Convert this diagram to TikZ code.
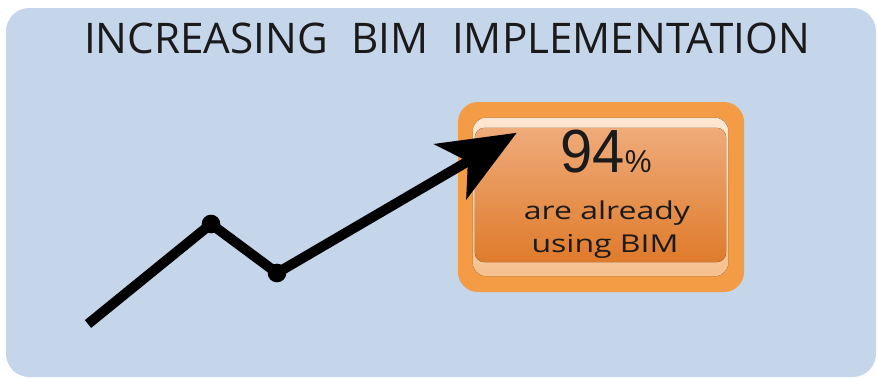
\documentclass[tikz,border=0pt]{standalone}
\usepackage{fontspec}
\setmainfont{Open Sans}
\newfontfamily\numfont[FakeStretch=0.95]{Liberation Sans}
\newfontfamily\titlefont{Open Sans}
\newfontfamily\labelfont[FakeStretch=1.3]{Open Sans}
\usepackage{tikz}
\usetikzlibrary{positioning, calc, arrows.meta}
\definecolor{panelblue}{HTML}{C5D5EA}
\definecolor{boxorange}{HTML}{F39C45}
\definecolor{boxcream}{HTML}{FCE7D2}
\definecolor{boxpeach}{HTML}{F6C08E}
\definecolor{boxtop}{HTML}{EFAB7A}
\definecolor{boxmid}{HTML}{D6691D}
\definecolor{boxbottom}{HTML}{DF7B2B}
\definecolor{inktext}{HTML}{1A1A1A}

\begin{document}
\begin{tikzpicture}[x=0.3mm, y=-0.3mm,
    point/.style={circle,
      fill=black,
      inner sep=0pt,
      minimum size=5.6mm},
    trend/.style={line width=3mm,
      line join=round},
    statline/.style={font=\labelfont\fontsize{21}{21}\selectfont,
      text=inktext,
      anchor=base}]
  \useasboundingbox (0,0) rectangle (877,378);
  \fill[white] (0,0) rectangle (877,378);

  % PANEL

  \fill[panelblue, rounded corners=7mm] (6,8) rectangle (876,377);

  \node[font=\titlefont\fontsize{36}{36}\selectfont,
    text=inktext] (title) at (447,38) {
    INCREASING\hspace{0.3em} BIM\hspace{0.3em} IMPLEMENTATION
  };

  % STAT BOX

  \node[rounded corners=6mm,
    fill=boxorange,
    minimum width=85.8mm,
    minimum height=57mm] (stat) at (601,197) {};

  \fill[rounded corners=4mm,
    top color=boxcream,
    bottom color=boxpeach]
    ($(stat.north west)+(15,16)$) rectangle ($(stat.south east)+(-16,-16)$);
  \fill[rounded corners=3mm,
    top color=boxtop,
    middle color=boxmid,
    bottom color=boxbottom]
    ($(stat.north west)+(17,26)$) rectangle ($(stat.south east)+(-18,-30)$);

  \node[font=\numfont\fontsize{52}{52}\selectfont,
    text=inktext,
    anchor=base] (percent) at (606,172) {
    94{\fontsize{27}{27}\selectfont\%}
  };

  \node[statline] (already) at (607,219) {are already};
  \node[statline] (using) at (605,252) {using BIM};

  % TREND LINE

  \coordinate (start) at (88,324);
  \node[point] (peak) at (211,224) {};
  \node[point] (dip) at (277,273) {};
  \coordinate (tip) at ($(stat.north west)+(59,31)$);

  \draw[trend, -{Stealth[length=23mm, width=19mm, inset=6mm]}]
    (start) -- (peak.center) -- (dip.center) -- (tip);

\end{tikzpicture}
\end{document}
